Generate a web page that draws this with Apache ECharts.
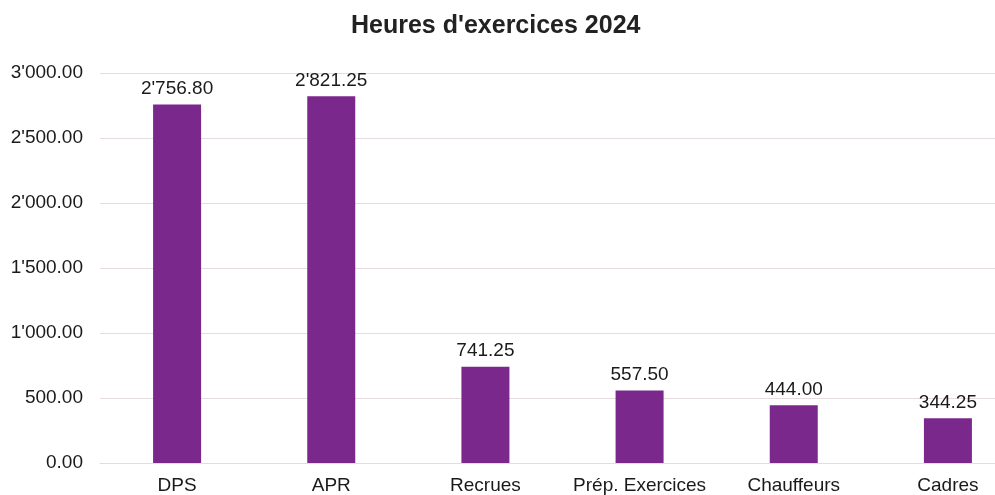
<!DOCTYPE html>
<html><head><meta charset="utf-8">
<script src="https://cdn.jsdelivr.net/npm/echarts@6/dist/echarts.min.js"></script>
<style>html,body{margin:0;padding:0;background:#fff;overflow:hidden}#c{width:1025px;height:495px}</style>
</head><body><div id="c"></div>
<script>
const categories = ['DPS', 'APR', 'Recrues', 'Prép. Exercices', 'Chauffeurs', 'Cadres'];
const hours = [2756.80, 2821.25, 741.25, 557.50, 444.00, 344.25];
const titleText = "Heures d'exercices 2024";

function fmt(v) {
  const parts = Number(v).toFixed(2).split('.');
  parts[0] = parts[0].replace(/\B(?=(\d{3})+(?!\d))/g, "'");
  return parts.join('.');
}

const chart = echarts.init(document.getElementById('c'));
chart.setOption({
  animation: false,
  textStyle: { fontFamily: 'Liberation Sans, Arial, sans-serif' },
  graphic: [{
    type: 'text', left: 497 - 146, top: 14,
    style: { text: titleText, fontSize: 25, fontWeight: 'bold', fill: '#222', fontFamily: 'Liberation Sans, Arial, sans-serif' }
  }],
  grid: { left: 100, top: 73, right: 0, height: 390, containLabel: false },
  xAxis: {
    type: 'category', data: categories,
    axisLine: { show: true, lineStyle: { color: '#e6dcdc', width: 1 } },
    axisTick: { show: false },
    axisLabel: { fontSize: 19, color: '#1a1a1a', margin: 13, interval: 0 }
  },
  yAxis: {
    type: 'value', min: 0, max: 3000, interval: 500,
    axisLine: { show: false }, axisTick: { show: false },
    splitLine: { lineStyle: { color: '#e6dcdc', width: 1 } },
    axisLabel: { fontSize: 19, color: '#1a1a1a', margin: 17, formatter: fmt }
  },
  series: [{
    type: 'bar', data: hours, barWidth: 48,
    itemStyle: { color: '#7b288d' },
    label: { show: true, position: 'top', fontSize: 19, color: '#1a1a1a', distance: 6, formatter: p => fmt(p.value) }
  }]
});
</script></body></html>
